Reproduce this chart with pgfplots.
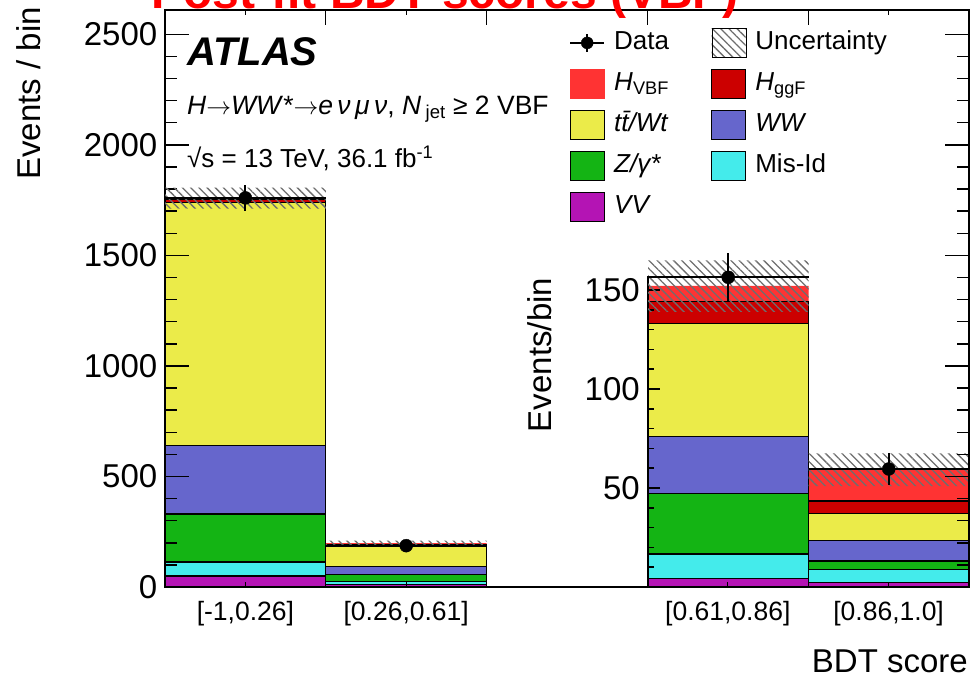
\documentclass[border=0pt]{standalone}
\usepackage{fontspec}
\setmainfont{Liberation Sans}
\usepackage{pgfplots}
\pgfplotsset{compat=1.18}
\usepackage{pgfplotstable}
\usetikzlibrary{patterns.meta}

\definecolor{cVBF}{RGB}{255,51,51}
\definecolor{cggF}{RGB}{204,0,0}
\definecolor{cTop}{RGB}{235,235,73}
\definecolor{cWW}{RGB}{102,102,204}
\definecolor{cZ}{RGB}{20,180,20}
\definecolor{cMis}{RGB}{68,235,235}
\definecolor{cVV}{RGB}{180,20,180}
\definecolor{cHatch}{RGB}{110,110,110}

% bins on the left axis (Events / bin)
\pgfplotstableread{
x   VV  MisId Z   WW  Top  ggF VBF
0.5 50  63    217 309 1100 14  6
1.5 13  13    30  36  91   10  5
}\mainbins
\pgfplotstableread{
x   data  err  xerr lo   width
0.5 1760  57   0.5  1711 96
1.5 187   14   0.5  186  24
}\maindata
% bins on the inset axis (Events/bin)
\pgfplotstableread{
x   VV  MisId Z    WW   Top  ggF  VBF
3.5 4.4 12.3  30.4 29.0 57.0 11.0 8.0
4.5 2.4 6.4   4.3  10.5 13.4 6.4  15.9
}\insetbins
\pgfplotstableread{
x   data  err  xerr lo   width
3.5 156.4 12.5 0.5  139  26
4.5 59.6  8.0  0.5  51   16.5
}\insetdata

\newcommand{\fs}[1]{\fontsize{#1bp}{#1bp}\selectfont}

\pgfplotsset{
  mainax/.style={scale only axis, width=804bp, height=577bp,
    xmin=0, xmax=5, ymin=0, ymax=2610, enlargelimits=false,
    at={(165bp,-587bp)}, anchor=south west, clip=false},
  insetax/.style={scale only axis, width=321bp, height=310.86bp,
    xmin=3, xmax=5, ymin=0, ymax=157, enlargelimits=false,
    at={(648bp,-587bp)}, anchor=south west, clip=false},
  barsty/.style={fill=#1, draw=black, line width=1.2bp},
  hatchsty/.style={draw=none, pattern={Lines[angle=-45,distance=5.8bp,line width=1.3bp]}, pattern color=cHatch},
  datasty/.style={black, only marks, mark=*, mark size=6.5bp,
    error bars/.cd, x dir=both, x explicit, y dir=both, y explicit,
    error mark=none, error bar style={line width=2bp, black}},
  boxlegend/.style={legend image code/.code={\draw[##1] (0bp,-14.5bp) rectangle (34bp,14.5bp);}},
}

\begin{document}
\begin{tikzpicture}
% ---------------- inset (right two bins) ----------------
\begin{axis}[insetax, axis on top, ybar stacked, bar width=1,
  axis x line=none, axis y line*=left,
  ytick={50,100,150}, minor ytick={10,20,30,40,60,70,80,90,110,120,130,140},
  tick align=inside,
  ytick style={/pgfplots/major tick length=12bp, /pgfplots/minor tick length=6bp, line width=1.5bp, black},
  axis line style={line width=1.5bp, black},
  yticklabel style={inner sep=0pt, xshift=-8bp, font=\fs{33}},
  /pgf/number format/assume math mode=true]
\addplot[barsty=cVV]  table[x=x,y=VV]{\insetbins};
\addplot[barsty=cMis] table[x=x,y=MisId]{\insetbins};
\addplot[barsty=cZ]   table[x=x,y=Z]{\insetbins};
\addplot[barsty=cWW]  table[x=x,y=WW]{\insetbins};
\addplot[barsty=cTop] table[x=x,y=Top]{\insetbins};
\addplot[barsty=cggF] table[x=x,y=ggF]{\insetbins};
\addplot[fill=cVBF, draw=none] table[x=x,y=VBF]{\insetbins};
\end{axis}
\begin{axis}[insetax, hide axis, ybar stacked, bar width=1]
\addplot[draw=none, fill=none] table[x=x,y=lo]{\insetdata};
\addplot[hatchsty] table[x=x,y=width]{\insetdata};
\end{axis}
\begin{axis}[insetax, hide axis]
\addplot[datasty] table[x=x,y=data,x error=xerr,y error=err]{\insetdata};
\end{axis}

% ---------------- main axis (left two bins) ----------------
\begin{axis}[mainax, axis on top, ybar stacked, bar width=1,
  xtick={0.5,1.5,3.5,4.5},
  xticklabels={{[-1,0.26]},{[0.26,0.61]},{[0.61,0.86]},{[0.86,1.0]}},
  minor xtick={1,2,3,4},
  ytick={0,500,1000,1500,2000,2500}, minor y tick num=4,
  tick align=inside,
  xtick style={/pgfplots/major tick length=5bp, /pgfplots/minor tick length=15bp, line width=1.2bp, black},
  ytick style={/pgfplots/major tick length=24bp, /pgfplots/minor tick length=12bp, line width=1.5bp, black},
  axis line style={line width=1.5bp, black},
  yticklabel style={inner sep=0pt, xshift=-7.5bp, font=\fs{33}},
  xticklabel style={inner sep=0pt, yshift=-14.5bp, font=\fs{26.5}},
  scaled y ticks=false,
  /pgf/number format/1000 sep={},
  /pgf/number format/assume math mode=true]
\addplot[barsty=cVV]  table[x=x,y=VV]{\mainbins};
\addplot[barsty=cMis] table[x=x,y=MisId]{\mainbins};
\addplot[barsty=cZ]   table[x=x,y=Z]{\mainbins};
\addplot[barsty=cWW]  table[x=x,y=WW]{\mainbins};
\addplot[barsty=cTop] table[x=x,y=Top]{\mainbins};
\addplot[barsty=cggF] table[x=x,y=ggF]{\mainbins};
\addplot[fill=cVBF, draw=none] table[x=x,y=VBF]{\mainbins};
\end{axis}
\begin{axis}[mainax, hide axis, ybar stacked, bar width=1]
\addplot[draw=none, fill=none] table[x=x,y=lo]{\maindata};
\addplot[hatchsty] table[x=x,y=width]{\maindata};
\end{axis}
\begin{axis}[mainax, hide axis,
  legend columns=2,
  legend cell align=left,
  legend style={draw=none, fill=none, inner sep=0pt,
    at={(0.5025,0.9688)}, anchor=north west,
    font=\fs{26}, row sep=11bp,
    nodes={inner xsep=9bp, inner ysep=0bp, text height=20bp, text depth=7bp},
    /tikz/every even column/.append style={column sep=33bp}}]
\addplot[legend image code/.code={
    \draw[line width=2bp] (0bp,0bp) -- (34bp,0bp);
    \draw[line width=2bp] (17bp,-9bp) -- (17bp,9bp);
    \fill (17bp,0bp) circle (6bp);}, datasty]
  table[x=x,y=data,x error=xerr,y error=err]{\maindata};
\addlegendentry{Data}
\addlegendimage{boxlegend, hatchsty}
\addlegendentry{Uncertainty}
\addlegendimage{boxlegend, fill=cVBF, draw=cVBF, line width=1.2bp}
\addlegendentry{\textit{H}\textsubscript{VBF}}
\addlegendimage{boxlegend, fill=cggF, draw=black, line width=1.2bp}
\addlegendentry{\textit{H}\textsubscript{ggF}}
\addlegendimage{boxlegend, fill=cTop, draw=black, line width=1.2bp}
\addlegendentry{\textit{tt̄/Wt}}
\addlegendimage{boxlegend, fill=cWW, draw=black, line width=1.2bp}
\addlegendentry{\textit{WW}}
\addlegendimage{boxlegend, fill=cZ, draw=black, line width=1.2bp}
\addlegendentry{\textit{Z/γ*}}
\addlegendimage{boxlegend, fill=cMis, draw=black, line width=1.2bp}
\addlegendentry{Mis-Id}
\addlegendimage{boxlegend, fill=cVV, draw=black, line width=1.2bp}
\addlegendentry{\textit{VV}}
\end{axis}

% ---------------- texts ----------------
\node[anchor=base west, inner sep=0pt, font=\fs{40}\bfseries\itshape] at (187bp,-65bp) {ATLAS};
\node[anchor=base west, inner sep=0pt, font=\fs{26.5}] at (187bp,-114bp)
  {\textit{H}$\rightarrow$\textit{WW}*$\rightarrow$\textit{e\,ν\,μ\,ν}, \textit{N}\,\textsubscript{jet} ≥ 2 VBF};
\node[anchor=base west, inner sep=0pt, font=\fs{26}] at (187bp,-167bp)
  {√s = 13 TeV, 36.1 fb\textsuperscript{-1}};
\node[rotate=90, anchor=base east, inner sep=0pt, font=\fs{33}] at (40bp,-7bp) {Events / bin};
\node[rotate=90, anchor=base, inner sep=0pt, font=\fs{33}] at (551bp,-355bp) {Events/bin};
\node[anchor=base east, inner sep=0pt, font=\fs{33}] at (968bp,-672bp) {BDT score};
\node[anchor=base, inner sep=0pt, text=red, font=\fs{48}\bfseries] at (445bp,-8bp) {Post-fit BDT scores (VBF)};

\pgfresetboundingbox
\useasboundingbox (0bp,0bp) rectangle (972bp,-686bp);
\end{tikzpicture}
\end{document}
